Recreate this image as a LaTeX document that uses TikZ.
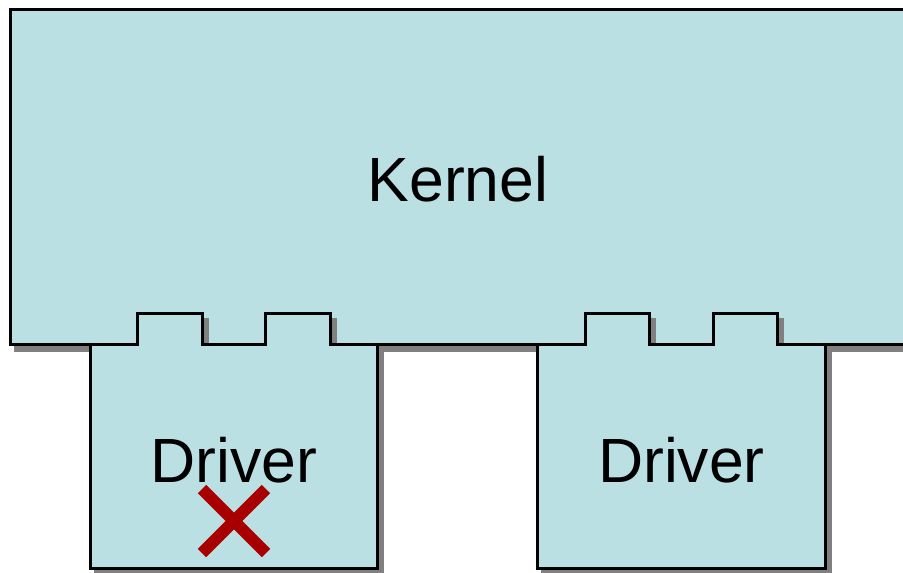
\documentclass[tikz,border=0pt]{standalone}
\usepackage{fontspec}
\setmainfont{Liberation Sans}
\definecolor{boxfill}{HTML}{BBE0E3}
\definecolor{shadowgray}{HTML}{808080}
\definecolor{crossred}{HTML}{A80000}
\begin{document}
\begin{tikzpicture}[x=1pt,y=-1pt,
  outline/.style={draw=black,line width=3pt,fill=boxfill,line join=miter},
  shade/.style={draw=shadowgray,fill=shadowgray,line width=3pt,shift={(5,6)}},
  label/.style={anchor=base,inner sep=0pt,font=\fontsize{62.5}{75}\selectfont},
  cross/.style={draw=crossred,line width=12pt}]
\useasboundingbox (0,0) rectangle (903,573);
\clip (0,0) rectangle (903,573);
% kernel
\path[shade] (10,9) rectangle (915,344);
\path[outline] (10,9) rectangle (915,344);
% drivers
\foreach \dx in {0,447.5}{
  \begin{scope}[xshift=\dx]
  \path[shade] (90,568) -- (90,344) -- (137.5,344) -- (137.5,313) -- (202,313) -- (202,344) -- (265.5,344) -- (265.5,313) -- (330,313) -- (330,344) -- (377.5,344) -- (377.5,568) -- cycle;
  \end{scope}}
\foreach \dx in {0,447.5}{
  \begin{scope}[xshift=\dx]
  \path[outline] (90,568) -- (90,344) -- (137.5,344) -- (137.5,313) -- (202,313) -- (202,344) -- (265.5,344) -- (265.5,313) -- (330,313) -- (330,344) -- (377.5,344) -- (377.5,568) -- cycle;
  \end{scope}}
\node[label] (kernel) at (458,201.7) {Kernel};
\node[label] (driverA) at (234,482) {Driver};
\node[label] (driverB) at (681.5,482) {Driver};
\coordinate (xa) at (202,489);
\coordinate (xb) at (266,553);
\coordinate (xc) at (266,489);
\coordinate (xd) at (202,553);
\draw[cross] (xa) -- (xb);
\draw[cross] (xc) -- (xd);
\end{tikzpicture}
\end{document}
